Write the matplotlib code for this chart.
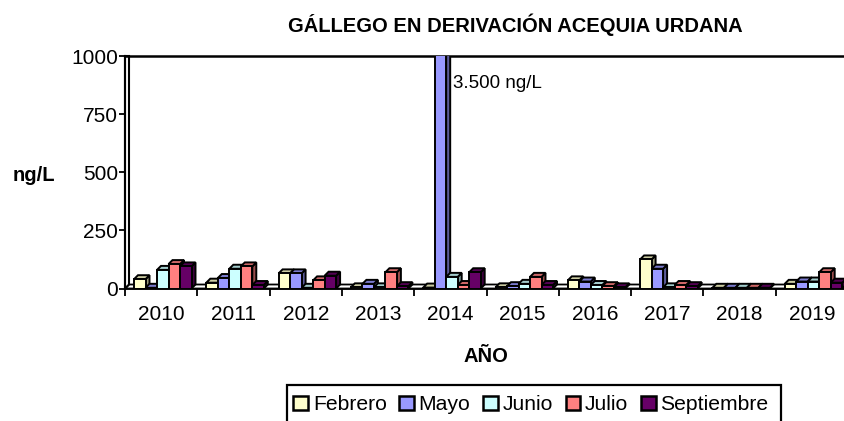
import matplotlib
matplotlib.use("Agg")
import matplotlib.pyplot as plt
from matplotlib.patches import Polygon, Patch, Rectangle
import matplotlib.colors as mcolors
import numpy as np

plt.rcParams['font.family'] = ['Liberation Sans', 'DejaVu Sans']

years = ['2010', '2011', '2012', '2013', '2014', '2015', '2016', '2017', '2018', '2019']
series = ['Febrero', 'Mayo', 'Junio', 'Julio', 'Septiembre']
febrero = [40, 25, 65, 5, 4, 5, 35, 125, 3, 20]
mayo = [3, 45, 65, 20, 3500, 10, 30, 85, 3, 30]
junio = [80, 85, 3, 5, 50, 20, 15, 5, 3, 30]
julio = [105, 95, 35, 70, 15, 50, 10, 15, 3, 70]
septiembre = [95, 15, 55, 10, 70, 15, 5, 10, 3, 25]
values = [febrero, mayo, junio, julio, septiembre]
colors = ['#FFFFCC', '#9999FF', '#CCFFFF', '#FF8080', '#660066']

W, H = 844, 421
fig = plt.figure(figsize=(W/100, H/100), dpi=100)
ax_left, ax_w = 125, 723
ax_bot, ax_h = 288.5, 232.5
ax = fig.add_axes([ax_left/W, (H-ax_bot)/H, ax_w/W, ax_h/H])
ax.set_xlim(-0.5, 9.5)
ax.set_ylim(0, 1000)

px_x = 10/ax_w
px_y = 1000/ax_h
bw = 11.5*px_x
dx = 4*px_x
dy = 4*px_y

def darker(c, f):
    r, g, b = mcolors.to_rgb(c)
    return (r*f, g*f, b*f)

# floor
ax.add_patch(Polygon([(-0.5, 0), (9.5, 0), (9.5+dx, dy), (-0.5+dx, dy)], closed=True,
                     facecolor='white', edgecolor='black', lw=1.3, zorder=1, clip_on=False))
# left wall
ax.add_patch(Polygon([(-0.5, 0), (-0.5+dx, dy), (-0.5+dx, 1000), (-0.5, 1000)], closed=True,
                     facecolor='white', edgecolor='black', lw=1.5, zorder=1, clip_on=False))

z = 2
for j in range(len(years)):
    for k in range(len(series)):
        v = values[k][j]
        x0 = j - 0.5 + 9*px_x + k*bw
        col = colors[k]
        ax.add_patch(Polygon([(x0+bw, 0), (x0+bw+dx, dy), (x0+bw+dx, v+dy), (x0+bw, v)], closed=True,
                             facecolor=darker(col, 0.6), edgecolor='black', lw=1.4, zorder=z))
        ax.add_patch(Polygon([(x0, v), (x0+dx, v+dy), (x0+bw+dx, v+dy), (x0+bw, v)], closed=True,
                             facecolor=darker(col, 0.8), edgecolor='black', lw=1.4, zorder=z))
        ax.bar(x0, v, width=bw, align='edge', color=col, edgecolor='black', lw=1.4, zorder=z+0.5)
        z += 1

ax.text(4.04, 880, '3.500 ng/L', fontsize=13.5, ha='left', va='center', zorder=200)

ax.set_yticks([0, 250, 500, 750, 1000])
ax.set_yticklabels(['0', '250', '500', '750', '1000'], fontsize=15)
ax.set_xticks(range(len(years)))
ax.set_xticklabels(years, fontsize=15)
ax.set_xticks(np.arange(-0.5, 10, 1), minor=True)
ax.tick_params(axis='x', which='major', length=0, pad=12)
ax.tick_params(axis='x', which='minor', length=5, width=1.3, direction='out')
ax.tick_params(axis='y', length=4.5, width=1.3, direction='out', pad=0.5)

ax.spines['right'].set_visible(False)
ax.spines['left'].set_linewidth(1.5)
ax.spines['top'].set_linewidth(1.8)
ax.spines['bottom'].set_linewidth(1.3)

fig.text(515/W, 1-25/H, 'GÁLLEGO EN DERIVACIÓN ACEQUIA URDANA', fontsize=14.5, fontweight='bold',
         ha='center', va='center')
fig.text(33.5/W, 1-175/H, 'ng/L', fontsize=14.5, fontweight='bold', ha='center', va='center')
fig.text(485.5/W, 1-356/H, 'AÑO', fontsize=14.5, fontweight='bold', ha='center', va='center')

handles = [Patch(facecolor=c, edgecolor='black', lw=1.8) for c in colors]
leg = fig.legend(handles, series, loc='upper left', bbox_to_anchor=(287/W, 1-389/H), ncol=5,
                 fontsize=15.2, frameon=False,
                 handlelength=0.7, handleheight=0.7, handletextpad=0.22, columnspacing=0.6,
                 borderpad=0.3, borderaxespad=0)
fig.patches.append(Rectangle((287/W, -10/H), (781-287)/W, (H-385+10)/H, transform=fig.transFigure,
                             facecolor='none', edgecolor='black', lw=1.6, figure=fig))

fig.savefig('out.png', dpi=100)
